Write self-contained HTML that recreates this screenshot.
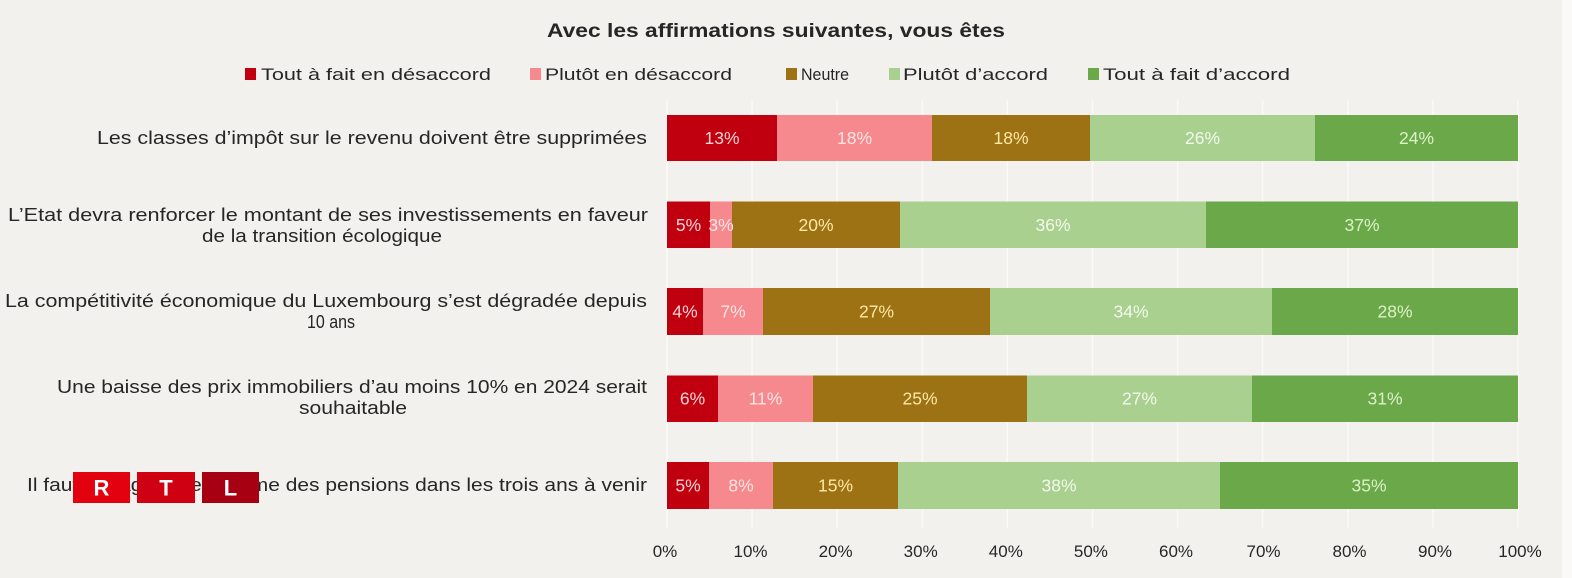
<!DOCTYPE html>
<html><head><meta charset="utf-8">
<style>
html,body{margin:0;padding:0;background:#f3f1ed;}
svg{display:block;}
text{font-family:"Liberation Sans",sans-serif;}
</style></head>
<body>
<svg width="1572" height="578" viewBox="0 0 1572 578" xmlns="http://www.w3.org/2000/svg">
<rect x="0" y="0" width="1572" height="578" fill="#f3f1ed"/>
<rect x="1562" y="0" width="10" height="578" fill="#faf9f7"/>
<!-- gridlines -->
<g stroke="#faf9f7" stroke-width="1.5">
<line x1="667" y1="100" x2="667" y2="528"/>
<line x1="752.1" y1="100" x2="752.1" y2="528"/>
<line x1="837.2" y1="100" x2="837.2" y2="528"/>
<line x1="922.3" y1="100" x2="922.3" y2="528"/>
<line x1="1007.4" y1="100" x2="1007.4" y2="528"/>
<line x1="1092.5" y1="100" x2="1092.5" y2="528"/>
<line x1="1177.6" y1="100" x2="1177.6" y2="528"/>
<line x1="1262.7" y1="100" x2="1262.7" y2="528"/>
<line x1="1347.8" y1="100" x2="1347.8" y2="528"/>
<line x1="1432.9" y1="100" x2="1432.9" y2="528"/>
<line x1="1518" y1="100" x2="1518" y2="528"/>
</g>
<!-- title -->
<text x="776" y="37" font-size="19" font-weight="bold" fill="#262626" text-anchor="middle" textLength="458" lengthAdjust="spacingAndGlyphs">Avec les affirmations suivantes, vous êtes</text>
<!-- legend -->
<g font-size="17" fill="#262626">
<rect x="245" y="68" width="11" height="12" fill="#c0000f"/>
<text x="261" y="80" textLength="230" lengthAdjust="spacingAndGlyphs">Tout à fait en désaccord</text>
<rect x="530" y="68" width="11" height="12" fill="#f5898d"/>
<text x="545" y="80" textLength="187" lengthAdjust="spacingAndGlyphs">Plutôt en désaccord</text>
<rect x="786" y="68" width="11" height="12" fill="#9c7214"/>
<text x="801" y="80" textLength="48" lengthAdjust="spacingAndGlyphs">Neutre</text>
<rect x="889" y="68" width="11" height="12" fill="#a9d08e"/>
<text x="903" y="80" textLength="145" lengthAdjust="spacingAndGlyphs">Plutôt d’accord</text>
<rect x="1088" y="68" width="11" height="12" fill="#6aa84a"/>
<text x="1103" y="80" textLength="187" lengthAdjust="spacingAndGlyphs">Tout à fait d’accord</text>
</g>
<!-- category labels -->
<g font-size="18.5" fill="#262626">
<text x="97" y="144" textLength="550" lengthAdjust="spacingAndGlyphs">Les classes d’impôt sur le revenu doivent être supprimées</text>
<text x="8" y="221" textLength="640" lengthAdjust="spacingAndGlyphs">L’Etat devra renforcer  le montant de ses investissements en faveur</text>
<text x="322" y="242" text-anchor="middle" textLength="240" lengthAdjust="spacingAndGlyphs">de la transition écologique</text>
<text x="5" y="307" textLength="642" lengthAdjust="spacingAndGlyphs">La compétitivité économique du Luxembourg s’est dégradée depuis</text>
<text x="331" y="328" text-anchor="middle" textLength="48" lengthAdjust="spacingAndGlyphs">10 ans</text>
<text x="57" y="393" textLength="590" lengthAdjust="spacingAndGlyphs">Une baisse des prix immobiliers d’au moins 10% en 2024 serait</text>
<text x="353" y="414" text-anchor="middle" textLength="108" lengthAdjust="spacingAndGlyphs">souhaitable</text>
<text x="27" y="491" textLength="620" lengthAdjust="spacingAndGlyphs">Il faut engager une réforme des pensions dans les trois ans à venir</text>
</g>
<!-- bars -->
<g>
<rect x="667" y="115" width="110" height="46" fill="#c0000f"/>
<rect x="777" y="115" width="155" height="46" fill="#f5898d"/>
<rect x="932" y="115" width="158" height="46" fill="#9c7214"/>
<rect x="1090" y="115" width="225" height="46" fill="#a9d08e"/>
<rect x="1315" y="115" width="203" height="46" fill="#6aa84a"/>

<rect x="667" y="201.5" width="43" height="46.5" fill="#c0000f"/>
<rect x="710" y="201.5" width="22" height="46.5" fill="#f5898d"/>
<rect x="732" y="201.5" width="168" height="46.5" fill="#9c7214"/>
<rect x="900" y="201.5" width="306" height="46.5" fill="#a9d08e"/>
<rect x="1206" y="201.5" width="312" height="46.5" fill="#6aa84a"/>

<rect x="667" y="288" width="36" height="47" fill="#c0000f"/>
<rect x="703" y="288" width="60" height="47" fill="#f5898d"/>
<rect x="763" y="288" width="227" height="47" fill="#9c7214"/>
<rect x="990" y="288" width="282" height="47" fill="#a9d08e"/>
<rect x="1272" y="288" width="246" height="47" fill="#6aa84a"/>

<rect x="667" y="375.5" width="51" height="46.5" fill="#c0000f"/>
<rect x="718" y="375.5" width="95" height="46.5" fill="#f5898d"/>
<rect x="813" y="375.5" width="214" height="46.5" fill="#9c7214"/>
<rect x="1027" y="375.5" width="225" height="46.5" fill="#a9d08e"/>
<rect x="1252" y="375.5" width="266" height="46.5" fill="#6aa84a"/>

<rect x="667" y="462" width="42" height="47" fill="#c0000f"/>
<rect x="709" y="462" width="64" height="47" fill="#f5898d"/>
<rect x="773" y="462" width="125" height="47" fill="#9c7214"/>
<rect x="898" y="462" width="322" height="47" fill="#a9d08e"/>
<rect x="1220" y="462" width="298" height="47" fill="#6aa84a"/>
</g>
<!-- value labels -->
<g font-size="17.5" text-anchor="middle">
<g fill="#f8d3d3">
<text x="722" y="144">13%</text>
<text x="688.5" y="231">5%</text>
<text x="685" y="317.5">4%</text>
<text x="692.5" y="404.5">6%</text>
<text x="688" y="491.5">5%</text>
</g>
<g fill="#fde4e4">
<text x="854.5" y="144">18%</text>
<text x="721" y="231">3%</text>
<text x="733" y="317.5">7%</text>
<text x="765.5" y="404.5">11%</text>
<text x="741" y="491.5">8%</text>
</g>
<g fill="#ffe8a3">
<text x="1011" y="144">18%</text>
<text x="816" y="231">20%</text>
<text x="876.5" y="317.5">27%</text>
<text x="920" y="404.5">25%</text>
<text x="835.5" y="491.5">15%</text>
</g>
<g fill="#f2f9ec">
<text x="1202.5" y="144">26%</text>
<text x="1053" y="231">36%</text>
<text x="1131" y="317.5">34%</text>
<text x="1139.5" y="404.5">27%</text>
<text x="1059" y="491.5">38%</text>
</g>
<g fill="#dcf2c6">
<text x="1416.5" y="144">24%</text>
<text x="1362" y="231">37%</text>
<text x="1395" y="317.5">28%</text>
<text x="1385" y="404.5">31%</text>
<text x="1369" y="491.5">35%</text>
</g>
</g>
<!-- axis ticks -->
<g font-size="17" fill="#262626" text-anchor="middle">
<text x="665" y="557">0%</text>
<text x="750.5" y="557">10%</text>
<text x="835.6" y="557">20%</text>
<text x="920.7" y="557">30%</text>
<text x="1005.8" y="557">40%</text>
<text x="1090.9" y="557">50%</text>
<text x="1176" y="557">60%</text>
<text x="1263.5" y="557">70%</text>
<text x="1349.5" y="557">80%</text>
<text x="1435" y="557">90%</text>
<text x="1520" y="557">100%</text>
</g>
<!-- RTL logo -->
<rect x="73" y="472" width="57" height="31" fill="#e3000f"/>
<rect x="137" y="472" width="58" height="31" fill="#cf0012"/>
<rect x="202" y="472" width="57" height="31" fill="#a60012"/>
<g font-size="22" font-weight="bold" fill="#ffffff" text-anchor="middle">
<text x="101.5" y="495.5">R</text>
<text x="166" y="495.5">T</text>
<text x="230.5" y="495.5">L</text>
</g>
</svg>
</body></html>
